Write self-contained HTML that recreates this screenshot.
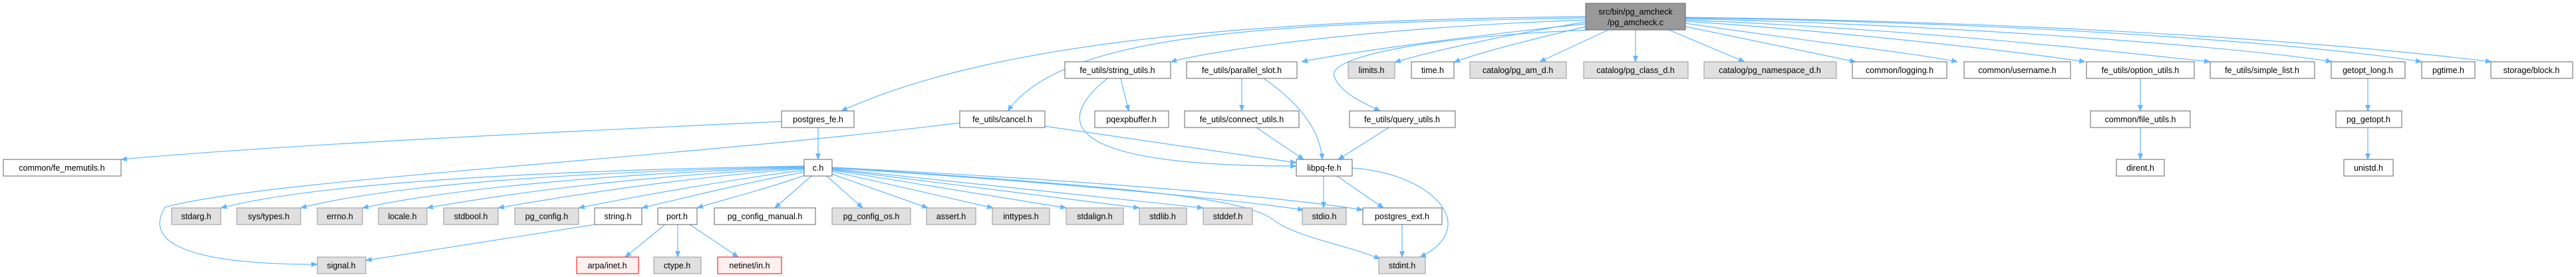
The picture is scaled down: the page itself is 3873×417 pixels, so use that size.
<!DOCTYPE html>
<html><head><meta charset="utf-8"><style>
html,body{margin:0;padding:0;background:#fff;}
svg{display:block;}
text{font-family:"Liberation Sans",sans-serif;font-size:12.5px;fill:#000;text-anchor:middle;}
.w{fill:#fff;stroke:#666;stroke-width:1;}
.g{fill:#e0e0e0;stroke:#999;stroke-width:1;}
.r{fill:#fff0f0;stroke:#f00;stroke-width:1;}
.t{fill:#999;stroke:#666;stroke-width:1;}
.e{fill:none;stroke:#63b8ff;stroke-width:1.2;marker-end:url(#a);}
</style></head><body>
<svg width="3873" height="417" viewBox="0 0 3873 417" xmlns="http://www.w3.org/2000/svg">
<defs><marker id="a" markerWidth="10" markerHeight="8" refX="9" refY="4" orient="auto" markerUnits="userSpaceOnUse"><path d="M0,0 L10,4 L0,8 z" fill="#63b8ff"/></marker></defs>
<!-- edges -->
<g>
<path class="e" d="M2384,33 C2250,55 2140,80 2097,94"/>
<path class="e" d="M2384,40 C2300,60 2220,80 2186,94"/>
<path class="e" d="M2418,45 L2315,93"/>
<path class="e" d="M2459,45 L2459,93"/>
<path class="e" d="M2509,45 L2623,93"/>
<path class="e" d="M2534,40 L2790,93"/>
<path class="e" d="M2534,35 C2700,60 2880,80 2943,93"/>
<path class="e" d="M2534,32 C2800,50 3050,80 3135,93"/>
<path class="e" d="M2534,30 C2900,45 3200,80 3323,93"/>
<path class="e" d="M2534,28 C3000,40 3400,75 3506,93"/>
<path class="e" d="M2534,27 C3100,35 3500,70 3641,93"/>
<path class="e" d="M2534,26 C3200,35 3600,75 3746,93"/>
<path class="e" d="M2390,45 C2150,55 1995,85 2006,115 C2015,140 2050,155 2075,167"/>
<path class="e" d="M2384,30 C2100,40 1850,70 1760,93"/>
<path class="e" d="M2384,36 C2200,55 2020,80 1957,93"/>
<path class="e" d="M2384,25 C1900,30 1500,60 1265,167"/>
<path class="e" d="M2384,27 C1900,35 1600,50 1515,167"/>
<path class="e" d="M1230,192 L1230,240"/>
<path class="e" d="M1175,183 C800,200 400,220 182,240"/>
<path class="e" d="M1443,185 C1000,240 400,270 248,312 C225,350 240,398 477,398"/>
<path class="e" d="M1571,190 L1949,245"/>
<path class="e" d="M1665,118 C1600,170 1560,250 1949,250"/>
<path class="e" d="M1685,118 L1697,167"/>
<path class="e" d="M1867,118 L1867,167"/>
<path class="e" d="M1900,118 C1960,160 1985,200 1988,240"/>
<path class="e" d="M1889,192 L1960,240"/>
<path class="e" d="M2088,192 L2012,240"/>
<path class="e" d="M1990,265 L1990,313"/>
<path class="e" d="M2010,265 L2080,313"/>
<path class="e" d="M2033,253 C2150,260 2230,340 2135,387"/>
<path class="e" d="M2108,338 L2108,387"/>
<path class="e" d="M1209,250 C900,255 500,270 332,313"/>
<path class="e" d="M1209,251 C900,258 600,275 452,313"/>
<path class="e" d="M1209,252 C950,260 700,280 545,313"/>
<path class="e" d="M1209,253 C1000,262 800,285 642,313"/>
<path class="e" d="M1209,254 C1050,265 880,290 749,313"/>
<path class="e" d="M1209,256 C1100,270 960,295 870,313"/>
<path class="e" d="M1209,259 C1120,275 1020,300 965,313"/>
<path class="e" d="M1213,263 C1150,285 1090,300 1048,313"/>
<path class="e" d="M1220,265 L1165,313"/>
<path class="e" d="M1243,265 L1297,313"/>
<path class="e" d="M1251,262 L1395,313"/>
<path class="e" d="M1251,258 L1493,313"/>
<path class="e" d="M1251,256 L1603,313"/>
<path class="e" d="M1251,255 L1713,313"/>
<path class="e" d="M1251,254 L1809,313"/>
<path class="e" d="M1251,253 C1600,275 1850,300 1960,316"/>
<path class="e" d="M1251,252 C1700,275 1950,300 2049,316"/>
<path class="e" d="M1251,252 C1750,285 1880,300 1920,335 C1960,360 2030,370 2075,390"/>
<path class="e" d="M895,338 L550,392"/>
<path class="e" d="M1000,338 L940,387"/>
<path class="e" d="M1019,338 L1019,387"/>
<path class="e" d="M1037,338 L1110,387"/>
<path class="e" d="M3218,118 L3218,167"/>
<path class="e" d="M3218,192 L3218,240"/>
<path class="e" d="M3560,118 L3560,167"/>
<path class="e" d="M3560,192 L3560,240"/>
</g>
<!-- nodes -->
<rect class="t" x="2384" y="5" width="150" height="40"/><text x="2459" y="22">src/bin/pg_amcheck</text><text x="2459" y="38">/pg_amcheck.c</text>
<rect class="w" x="1601" y="93" width="159" height="25"/><text x="1680" y="110">fe_utils/string_utils.h</text>
<rect class="w" x="1784" y="93" width="166" height="25"/><text x="1867" y="110">fe_utils/parallel_slot.h</text>
<rect class="g" x="2027" y="93" width="70" height="25"/><text x="2062" y="110">limits.h</text>
<rect class="w" x="2122" y="93" width="64" height="25"/><text x="2154" y="110">time.h</text>
<rect class="g" x="2210" y="93" width="145" height="25"/><text x="2282" y="110">catalog/pg_am_d.h</text>
<rect class="g" x="2381" y="93" width="157" height="25"/><text x="2459" y="110">catalog/pg_class_d.h</text>
<rect class="g" x="2562" y="93" width="199" height="25"/><text x="2661" y="110">catalog/pg_namespace_d.h</text>
<rect class="w" x="2785" y="93" width="142" height="25"/><text x="2856" y="110">common/logging.h</text>
<rect class="w" x="2953" y="93" width="160" height="25"/><text x="3033" y="110">common/username.h</text>
<rect class="w" x="3137" y="93" width="162" height="25"/><text x="3218" y="110">fe_utils/option_utils.h</text>
<rect class="w" x="3323" y="93" width="157" height="25"/><text x="3401" y="110">fe_utils/simple_list.h</text>
<rect class="w" x="3505" y="93" width="111" height="25"/><text x="3560" y="110">getopt_long.h</text>
<rect class="w" x="3641" y="93" width="80" height="25"/><text x="3681" y="110">pgtime.h</text>
<rect class="w" x="3745" y="93" width="123" height="25"/><text x="3806" y="110">storage/block.h</text>
<rect class="w" x="1175" y="167" width="109" height="25"/><text x="1230" y="184">postgres_fe.h</text>
<rect class="w" x="1443" y="167" width="128" height="25"/><text x="1507" y="184">fe_utils/cancel.h</text>
<rect class="w" x="1646" y="167" width="111" height="25"/><text x="1701" y="184">pqexpbuffer.h</text>
<rect class="w" x="1781" y="167" width="172" height="25"/><text x="1867" y="184">fe_utils/connect_utils.h</text>
<rect class="w" x="2029" y="167" width="159" height="25"/><text x="2108" y="184">fe_utils/query_utils.h</text>
<rect class="w" x="3143" y="167" width="150" height="25"/><text x="3218" y="184">common/file_utils.h</text>
<rect class="w" x="3512" y="167" width="99" height="25"/><text x="3561" y="184">pg_getopt.h</text>
<rect class="w" x="5" y="240" width="177" height="25"/><text x="93" y="257">common/fe_memutils.h</text>
<rect class="w" x="1209" y="240" width="42" height="25"/><text x="1230" y="257">c.h</text>
<rect class="w" x="1949" y="240" width="84" height="25"/><text x="1991" y="257">libpq-fe.h</text>
<rect class="w" x="3182" y="240" width="72" height="25"/><text x="3218" y="257">dirent.h</text>
<rect class="w" x="3524" y="240" width="74" height="25"/><text x="3561" y="257">unistd.h</text>
<rect class="g" x="258" y="313" width="74" height="25"/><text x="295" y="330">stdarg.h</text>
<rect class="g" x="356" y="313" width="96" height="25"/><text x="404" y="330">sys/types.h</text>
<rect class="g" x="477" y="313" width="68" height="25"/><text x="511" y="330">errno.h</text>
<rect class="g" x="569" y="313" width="73" height="25"/><text x="605" y="330">locale.h</text>
<rect class="g" x="667" y="313" width="82" height="25"/><text x="708" y="330">stdbool.h</text>
<rect class="g" x="774" y="313" width="96" height="25"/><text x="822" y="330">pg_config.h</text>
<rect class="w" x="894" y="313" width="71" height="25"/><text x="929" y="330">string.h</text>
<rect class="w" x="989" y="313" width="59" height="25"/><text x="1018" y="330">port.h</text>
<rect class="w" x="1074" y="313" width="152" height="25"/><text x="1150" y="330">pg_config_manual.h</text>
<rect class="g" x="1251" y="313" width="118" height="25"/><text x="1310" y="330">pg_config_os.h</text>
<rect class="g" x="1393" y="313" width="74" height="25"/><text x="1430" y="330">assert.h</text>
<rect class="g" x="1492" y="313" width="86" height="25"/><text x="1535" y="330">inttypes.h</text>
<rect class="g" x="1603" y="313" width="86" height="25"/><text x="1646" y="330">stdalign.h</text>
<rect class="g" x="1713" y="313" width="71" height="25"/><text x="1748" y="330">stdlib.h</text>
<rect class="g" x="1809" y="313" width="74" height="25"/><text x="1846" y="330">stddef.h</text>
<rect class="g" x="1958" y="313" width="66" height="25"/><text x="1991" y="330">stdio.h</text>
<rect class="w" x="2049" y="313" width="119" height="25"/><text x="2108" y="330">postgres_ext.h</text>
<rect class="g" x="477" y="387" width="73" height="25"/><text x="513" y="404">signal.h</text>
<rect class="r" x="867" y="387" width="93" height="25"/><text x="913" y="404">arpa/inet.h</text>
<rect class="g" x="983" y="387" width="71" height="25"/><text x="1018" y="404">ctype.h</text>
<rect class="r" x="1079" y="387" width="96" height="25"/><text x="1127" y="404">netinet/in.h</text>
<rect class="g" x="2073" y="387" width="70" height="25"/><text x="2108" y="404">stdint.h</text>
</svg>
</body></html>
